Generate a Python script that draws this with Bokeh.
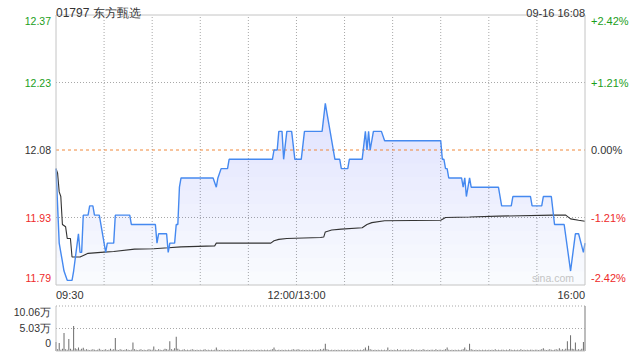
import numpy as np
from bokeh.plotting import figure
from bokeh.models import Range1d, Label
from bokeh.layouts import column
from bokeh.embed import file_html
from bokeh.resources import INLINE

# ---------------- data ----------------
stock_title = "01797 东方甄选"
stamp = "09-16 16:08"
prev_close = 12.08
price_ticks = [12.37, 12.225, 12.08, 11.935, 11.79]
price_labels = ["12.37", "12.23", "12.08", "11.93", "11.79"]
pct_labels = ["+2.42%", "+1.21%", "0.00%", "-1.21%", "-2.42%"]
time_ticks = [0, 150, 330]
time_labels = ["09:30", "12:00/13:00", "16:00"]
grid_minutes = [30, 60, 90, 120, 150, 180, 210, 240, 270, 300]

# minutes after 09:30 (lunch break removed) and last price
price_minute = [0, 2, 4, 5, 7, 10, 11, 14, 15, 16, 17, 20, 21, 23, 24, 27, 31, 32, 36, 37,
                46, 47, 62, 63, 64, 69, 70, 71, 74, 75, 76, 77, 78, 98, 100, 101, 103, 107, 108, 135,
                136, 138, 139, 141, 142, 144, 147, 149, 153, 155, 166, 168, 169, 171, 174, 177, 178, 182, 183, 191,
                193, 194, 195, 196, 198, 203, 205, 240, 241, 242, 243, 244, 245, 253, 254, 255, 256, 258, 259, 276,
                278, 284, 285, 296, 297, 303, 304, 309, 311, 317, 321, 324, 326, 329, 330]
price_value = [12.04, 11.88, 11.84, 11.82, 11.80, 11.80, 11.82, 11.90, 11.86, 11.86, 11.94, 11.94, 11.96, 11.96, 11.94, 11.94, 11.86, 11.88, 11.88, 11.94,
               11.94, 11.92, 11.92, 11.88, 11.90, 11.90, 11.86, 11.88, 11.88, 11.92, 11.92, 12.00, 12.02, 12.02, 12.00, 12.02, 12.04, 12.04, 12.06, 12.06,
               12.08, 12.08, 12.12, 12.12, 12.06, 12.12, 12.12, 12.06, 12.06, 12.12, 12.12, 12.18, 12.16, 12.12, 12.06, 12.06, 12.04, 12.04, 12.06, 12.06,
               12.12, 12.08, 12.12, 12.08, 12.12, 12.12, 12.10, 12.10, 12.06, 12.06, 12.04, 12.04, 12.02, 12.02, 12.00, 12.02, 11.98, 12.02, 12.00, 12.00,
               11.96, 11.96, 11.98, 11.98, 11.96, 11.96, 11.98, 11.98, 11.92, 11.92, 11.82, 11.90, 11.90, 11.86, 11.88]

avg_minute = [0, 1, 2, 3, 4, 6, 7, 9, 10, 15, 20, 28, 36, 49, 61, 70, 78, 99, 100, 134,
              136, 139, 144, 165, 167, 168, 172, 178, 191, 194, 197, 205, 240, 243, 258, 276, 310, 318, 321, 326, 330]
avg_value = [12.04, 12.03, 11.99, 11.98, 11.92, 11.915, 11.89, 11.89, 11.85, 11.85, 11.858, 11.86, 11.862, 11.867, 11.868, 11.87, 11.872, 11.874, 11.88, 11.88,
             11.885, 11.888, 11.89, 11.892, 11.893, 11.904, 11.908, 11.91, 11.913, 11.92, 11.924, 11.928, 11.929, 11.935, 11.936, 11.938, 11.94, 11.94, 11.932, 11.929, 11.927]

# volume per minute, in 万 shares
vol_wan = [
    2.0, 0.4, 1.8, 0.3, 0.5, 4.0, 0.4, 0.3, 2.7, 0.5, 0.3, 5.6, 0.6, 0.4, 0.8, 0.3, 0.5, 0.7, 0.3, 0.4, 0.3, 0.2, 0.3, 0.4, 0.3, 0.2, 0.3, 0.5, 0.3, 0.2,
    0.3, 0.4, 0.2, 0.3, 0.5, 0.3, 0.4, 2.9, 0.3, 0.2, 0.4, 0.3, 0.2, 0.3, 0.4, 0.3, 0.2, 0.3, 1.9, 0.4, 0.3, 0.2, 0.3, 0.4, 0.2, 0.3, 0.2, 0.3, 0.4, 0.3,
    0.3, 1.0, 0.3, 0.2, 0.4, 0.3, 0.2, 0.3, 0.5, 0.4, 0.3, 2.2, 0.4, 0.3, 0.6, 3.2, 0.5, 0.3, 0.2, 0.3, 0.4, 0.2, 0.3, 0.2, 0.3, 0.4, 0.3, 0.2, 0.3, 0.2,
    0.3, 0.2, 0.3, 0.4, 0.2, 0.3, 0.2, 0.3, 0.2, 0.3, 0.8, 0.3, 0.2, 0.3, 0.2, 0.3, 0.2, 0.2, 0.3, 0.2, 0.3, 0.2, 0.3, 0.2, 0.3, 0.2, 0.2, 0.3, 0.2, 0.3,
    0.2, 0.3, 0.2, 0.3, 0.2, 0.2, 0.3, 0.2, 0.3, 0.2, 0.3, 0.2, 0.3, 0.2, 0.3, 0.4, 0.8, 0.3, 0.2, 0.3, 0.2, 0.3, 0.2, 0.3, 0.2, 0.3, 0.2, 0.3, 0.4, 0.3,
    0.3, 0.4, 0.3, 0.2, 0.3, 0.2, 0.3, 0.2, 0.3, 0.2, 0.3, 0.2, 0.3, 0.2, 0.3, 0.4, 0.3, 0.5, 1.6, 0.4, 0.3, 0.2, 0.3, 0.2, 0.3, 0.2, 0.3, 0.2, 0.3, 0.2,
    0.3, 0.2, 0.3, 0.2, 0.3, 0.2, 0.3, 0.2, 0.3, 0.2, 0.3, 0.2, 0.4, 0.8, 0.3, 1.2, 0.4, 0.3, 0.2, 0.3, 0.2, 0.3, 0.2, 0.3, 0.2, 0.3, 0.2, 0.8, 0.2, 0.3,
    0.2, 0.3, 0.2, 0.4, 0.2, 0.3, 0.2, 0.3, 0.3, 0.2, 0.3, 0.2, 0.4, 0.3, 0.2, 0.3, 0.2, 0.3, 0.2, 0.4, 0.3, 0.2, 0.3, 0.2, 0.3, 0.3, 0.2, 0.4, 0.2, 0.3,
    0.3, 0.2, 0.3, 0.4, 0.8, 0.3, 0.2, 0.3, 0.2, 0.3, 0.2, 0.3, 0.2, 0.3, 0.4, 0.8, 0.3, 0.2, 1.6, 0.4, 0.3, 0.2, 0.3, 0.2, 0.3, 0.2, 0.3, 0.2, 0.3, 0.2,
    0.3, 0.2, 0.3, 0.2, 0.4, 0.2, 0.3, 0.2, 0.3, 0.3, 0.2, 0.3, 0.2, 0.4, 0.3, 0.2, 0.3, 0.2, 0.3, 0.2, 0.4, 0.2, 0.3, 0.2, 0.3, 0.2, 0.3, 0.3, 0.2, 0.3,
    0.3, 0.2, 0.3, 0.4, 0.6, 0.3, 0.2, 0.3, 0.4, 0.3, 0.2, 0.3, 0.4, 0.3, 0.6, 0.3, 0.4, 0.3, 0.5, 2.2, 0.4, 3.5, 0.5, 0.4, 1.9, 0.3, 0.4, 0.3, 0.5, 2.0,
    10.06,
]
vol_max = 10.06
vol_labels = ["10.06万", "5.03万", "0"]
vol_minute = list(range(len(vol_wan)))

# ---------------- style / layout (pixels) ----------------
FONT = "Liberation Sans"
GREEN = "#1b9e1b"
RED = "#ee2a2a"
DARK = "#333333"
BLUE = "#4589f0"
FILL = "#3a7de6"
GRID = "#a8a8a8"
FRAME = "#c4c4c4"
W = 632
H1, H2 = 300, 52
FX0, FX1 = 55.5, 584.5      # plot frame, horizontal pixels (pixel centres)
PY0, PY1 = 14.5, 284.5      # price frame, vertical pixels
VY0, VY1 = 5.5, 50.5        # volume frame, vertical pixels inside the lower figure

t0, t1 = time_ticks[0], time_ticks[-1]
lo, hi = price_ticks[-1], price_ticks[0]
kx = (t1 - t0) / (FX1 - FX0)
x_rng = (t0 - FX0 * kx, t1 + (W - FX1) * kx)
ky = (hi - lo) / (PY1 - PY0)
kv = vol_max / (VY1 - VY0)


def lab(p, x, y, text, color=DARK, size="11px", align="left", baseline="middle", xo=0, yo=0):
    p.add_layout(Label(x=x, y=y, text=text, text_color=color, text_font_size=size,
                       text_align=align, text_baseline=baseline, x_offset=xo, y_offset=yo,
                       text_font=FONT))


def make_fig(h, y_rng):
    p = figure(width=W, height=h, title=None, x_range=Range1d(*x_rng), y_range=Range1d(*y_rng),
               x_axis_type=None, y_axis_type=None, toolbar_location=None, output_backend="svg",
               min_border_left=0, min_border_right=0, min_border_top=0, min_border_bottom=0,
               outline_line_color=None, background_fill_color="white", border_fill_color="white")
    p.xgrid.visible = False
    p.ygrid.visible = False
    return p


# ---------------- price panel ----------------
p1 = make_fig(H1, (lo - (H1 - PY1) * ky, hi + PY0 * ky))

n = len(grid_minutes)
p1.segment(x0=grid_minutes, y0=[lo] * n, x1=grid_minutes, y1=[hi] * n,
           line_color=GRID, line_dash="1 2", line_width=1)
hgrid = [price_ticks[1], price_ticks[3]]
p1.segment(x0=[t0] * 2, y0=hgrid, x1=[t1] * 2, y1=hgrid,
           line_color=GRID, line_dash="1 2", line_width=1)

# gradient-like area under the price line (stacked translucent layers)
pv = np.array(price_value)
p1.varea(x=price_minute, y1=lo, y2=pv, fill_color=FILL, fill_alpha=0.03)
for L in np.linspace(lo, hi, 21)[1:-1]:
    p1.varea(x=price_minute, y1=L, y2=np.maximum(pv, L), fill_color=FILL, fill_alpha=0.013)

p1.segment(x0=[t0], y0=[prev_close], x1=[t1], y1=[prev_close],
           line_color="#f0883a", line_dash="3 3", line_width=1)

p1.line(avg_minute, avg_value, line_color=DARK, line_width=1.1)
p1.line(price_minute, price_value, line_color=BLUE, line_width=1.4)

p1.quad(left=[t0], right=[t1], bottom=[lo], top=[hi], fill_color=None, line_color=FRAME, line_width=1)

# title and time stamp
lab(p1, t0, hi, stock_title, size="12px", align="left", baseline="alphabetic", yo=2)
lab(p1, t1, hi, stamp, size="11px", align="right", baseline="alphabetic", yo=2)

# y labels
colors = [GREEN, GREEN, DARK, RED, RED]
yoffs = [-6, 0, 0, 0, 7]
for v, tl, pl, c, yo in zip(price_ticks, price_labels, pct_labels, colors, yoffs):
    lab(p1, t0, v, tl, color=c, size="10.5px", align="right", xo=-5, yo=yo)
    lab(p1, t1, v, pl, color=c, size="11px", align="left", xo=6, yo=yo)

# x labels
for t, tl, al in zip(time_ticks, time_labels, ["left", "center", "right"]):
    lab(p1, t, lo, tl, size="11px", align=al, yo=-10)

# watermark
lab(p1, t1, lo, "sina.com", color="#c4c4c4", size="10.5px", align="right", xo=-11, yo=7)

# ---------------- volume panel ----------------
p2 = make_fig(H2, (0 - (H2 - VY1) * kv, vol_max + VY0 * kv))
p2.segment(x0=[t0, t0], y0=[vol_max / 2, vol_max], x1=[t1, t1], y1=[vol_max / 2, vol_max],
           line_color=GRID, line_dash="1 2", line_width=1)
p2.vbar(x=vol_minute, top=vol_wan, width=0.6, fill_color="#666666", line_color=None)
p2.segment(x0=[t0, t0, t1], y0=[vol_max, 0, 0], x1=[t0, t1, t1], y1=[0, 0, vol_max],
           line_color=FRAME, line_width=1)

for v, tl, yo in zip([vol_max, vol_max / 2, 0], vol_labels, [-6, 1, 8]):
    lab(p2, t0, v, tl, size="10.5px", align="right", xo=-5, yo=yo)

layout = column(p1, p2, spacing=0)
open("out.html", "w").write(file_html(layout, INLINE))
